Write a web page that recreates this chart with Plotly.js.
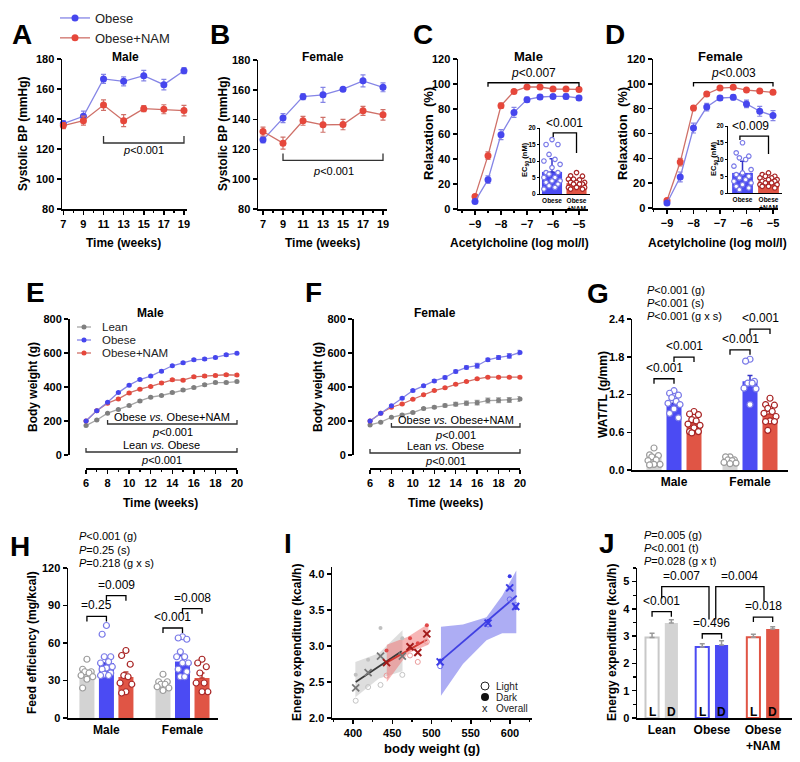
<!DOCTYPE html>
<html>
<head>
<meta charset="utf-8">
<script src="https://cdn.plot.ly/plotly-3.0.1.min.js"></script>
<style>
  html, body { margin: 0; padding: 0; background: #fff; }
  #plot { width: 800px; height: 762px; }
</style>
</head>
<body>
<div id="plot"></div>
<script>
// ---- data ----
// A, B: systolic BP
const bpWeeks = [7, 9, 11, 13, 15, 17, 19]
const bpMaleObese = [136.9, 141.8, 166.7, 165.1, 168.9, 162.9, 172.2]
const bpMaleObeseErr = [2, 3.5, 3, 3, 3.5, 3.5, 2]
const bpMaleNam = [135.6, 138.9, 149.3, 138.9, 146.9, 146.5, 145.6]
const bpMaleNamErr = [2, 3, 3.5, 4, 2, 3, 3.5]
const bpFemaleObese = [126.4, 141, 155.4, 156.6, 160.4, 166, 161.7]
const bpFemaleObeseErr = [2, 3, 2, 5, 1, 4, 3]
const bpFemaleNam = [132, 124.2, 139.2, 136.5, 136.7, 145.9, 143.2]
const bpFemaleNamErr = [3, 4, 3, 5, 3.5, 3, 3.5]

// C, D: relaxation to acetylcholine
const achDose = [-9, -8.5, -8, -7.5, -7, -6.5, -6, -5.5, -5]
const relMaleObese = [6.1, 23.5, 59.5, 77.3, 87.5, 89.6, 90.1, 90.1, 88.8]
const relMaleObeseErr = [1, 3, 4, 4, 2, 2, 1.5, 2, 2]
const relMaleNam = [10.1, 42.7, 82.7, 94.1, 97.6, 97.6, 96, 96, 95.7]
const relMaleNamErr = [1, 3, 2, 1, 1, 1, 1, 1, 1]
const relFemaleObese = [4, 25, 64.4, 81.3, 88.6, 89.1, 83.8, 77.9, 74.4]
const relFemaleObeseErr = [1, 4, 4, 3, 2, 2, 3, 4, 4]
const relFemaleNam = [6, 37, 80.5, 91.8, 96.6, 97.2, 95, 94.2, 93.2]
const relFemaleNamErr = [1, 3, 2, 1.5, 1, 1, 1, 1, 1]

// C, D insets: EC50
const ec50Labels = ['Obese', 'Obese<br>+NAM']
const ec50Male = [6.7, 3.3]
const ec50MaleErr = [4.0, 0.9]
const ec50MaleObesePts = [16.5, 15, 15, 12, 10.5, 10, 9, 8, 6.5, 6.5, 6, 5, 5, 4, 4, 3.5, 3, 2.5, 2, 1.5]
const ec50MaleNamPts = [6.5, 5.5, 5.4, 4.5, 4.3, 4.5, 3.5, 3.5, 3.5, 3, 3, 3, 2, 2, 2, 1.5, 1.5]
const ec50Female = [6.0, 3.5]
const ec50FemaleErr = [3.5, 0.7]
const ec50FemaleObesePts = [15, 12, 11, 10.5, 10, 8, 7, 6, 5.5, 5, 4.5, 4, 3.5, 3, 2.5, 2, 1.5, 1]
const ec50FemaleNamPts = [6, 5.5, 5, 5, 4.5, 4.5, 4, 4, 3.5, 3.5, 3, 3, 2.5, 2.5, 2, 2, 1.5]

// E, F: body weight
const groupNames = ['Lean', 'Obese', 'Obese+NAM']
const bwWeeks = [6, 7, 8, 9, 10, 11, 12, 13, 14, 15, 16, 17, 18, 19, 20]
const bwMaleLean = [173, 206, 246, 267, 291, 318, 340, 350, 367, 383, 397, 413, 426, 426, 432]
const bwMaleObese = [200, 261, 310, 367, 411, 444, 464, 493, 525, 542, 560, 564, 574, 589, 599]
const bwMaleNam = [200, 261, 305, 330, 365, 387, 403, 424, 442, 440, 460, 464, 468, 472, 470]
const bwMaleErr = [3, 3, 4, 4, 5, 5, 5, 6, 6, 6, 6, 7, 7, 7, 7]
const bwFemaleLean = [177, 193, 222, 236, 250, 273, 281, 291, 299, 305, 308, 320, 322, 324, 330]
const bwFemaleLeanErr = [3, 3, 4, 4, 5, 6, 7, 8, 10, 12, 13, 14, 14, 14, 14]
const bwFemaleObese = [200, 246, 289, 334, 379, 407, 436, 456, 491, 515, 525, 560, 574, 583, 603]
const bwFemaleObeseErr = [3, 4, 5, 5, 6, 6, 7, 8, 8, 9, 14, 9, 11, 13, 12]
const bwFemaleNam = [200, 246, 281, 300, 328, 354, 379, 395, 416, 432, 448, 458, 458, 458, 458]
const bwFemaleNamErr = [3, 3, 3, 4, 4, 4, 5, 5, 5, 5, 5, 5, 5, 5, 6]

// G: WAT/TL
const sexLabels = ['Male', 'Female']
const watLean = [0.2, 0.13]
const watLeanErr = [0.03, 0.02]
const watObese = [1.06, 1.41]
const watObeseErr = [0.05, 0.09]
const watNam = [0.75, 0.89]
const watNamErr = [0.04, 0.06]
const watMaleLeanPts = [0.35, 0.24, 0.23, 0.21, 0.16, 0.15, 0.09, 0.09, 0.08]
const watMaleObesePts = [1.26, 1.22, 1.19, 1.15, 1.09, 1.06, 1.04, 0.97, 0.9, 0.83]
const watMaleNamPts = [0.93, 0.89, 0.88, 0.8, 0.78, 0.73, 0.71, 0.67, 0.61, 0.61, 0.59]
const watFemaleLeanPts = [0.21, 0.21, 0.16, 0.16, 0.15, 0.12, 0.11, 0.1]
const watFemaleObesePts = [1.76, 1.73, 1.41, 1.38, 1.38, 1.3, 1.29, 1.04]
const watFemaleNamPts = [1.14, 1.04, 1.03, 0.98, 0.93, 0.9, 0.85, 0.78, 0.77, 0.77, 0.63]

// H: feed efficiency
const feLean = [36, 26]
const feLeanErr = [2, 1.5]
const feObese = [44, 45.3]
const feObeseErr = [4.5, 4.5]
const feNam = [32.8, 32]
const feNamErr = [4, 4]
const feMaleLeanPts = [47, 39, 37, 37, 36, 34, 33, 31, 24]
const feMaleObesePts = [74, 67, 49, 49, 45, 44, 41, 40, 39, 36, 35, 34, 34]
const feMaleNamPts = [54, 50, 43, 34, 33, 28, 27, 21, 20]
const feFemaleLeanPts = [35, 29, 29, 27, 27, 25, 24, 22]
const feFemaleObesePts = [65, 64, 63, 53, 49, 49, 44, 44, 39, 37, 33, 33]
const feFemaleNamPts = [47, 44, 41, 36, 28, 28, 21, 21]

// I: energy expenditure vs body weight
const phaseNames = ['Light', 'Dark', 'Overall']
const iLeanWeight = [403.4, 419.2, 435, 462.8]
const iLeanLight = [2.24, 2.43, 2.46, 2.6]
const iLeanDark = [2.6, 2.81, 3.25, 3.11]
const iLeanOverall = [2.42, 2.63, 2.86, 2.86]
const iNamWeight = [442.7, 472.6, 482.5, 494]
const iNamLight = [2.59, 2.87, 2.78, 3.06]
const iNamDark = [2.94, 3.11, 3.04, 3.29]
const iNamOverall = [2.77, 2.99, 2.91, 3.17]
const iObeseWeight = [511, 572, 599.6, 607.3]
const iObeseLight = [2.72, 3.3, 3.65, 3.57]
const iObeseDark = [2.8, 3.35, 3.97, 3.53]
const iObeseOverall = [2.78, 3.32, 3.81, 3.55]
const iLeanFitX = [403.4, 462]
const iLeanFitY = [2.5, 2.93]
const iNamFitX = [442.7, 494]
const iNamFitY = [2.77, 3.09]
const iObeseFitX = [509, 608.5]
const iObeseFitY = [2.77, 3.7]
const iLeanBandX = [403, 433, 463]
const iLeanBandHi = [2.78, 2.9, 3.22]
const iLeanBandLo = [2.29, 2.55, 2.65]
const iNamBandX = [443, 470, 496]
const iNamBandHi = [3.02, 3.13, 3.31]
const iNamBandLo = [2.5, 2.9, 3.02]
const iObeseBandX = [512, 540, 570, 590, 608]
const iObeseBandHi = [3.27, 3.3, 3.4, 3.7, 4.05]
const iObeseBandLo = [2.31, 2.75, 3.08, 3.18, 3.18]

// J: energy expenditure light / dark
const eeGroups = ['Lean', 'Obese', 'Obese<br>+NAM']
const eeLight = [2.95, 2.6, 2.96]
const eeLightErr = [0.16, 0.12, 0.11]
const eeDark = [3.48, 2.68, 3.26]
const eeDarkErr = [0.12, 0.15, 0.09]

// ---- layout helpers ----
const W = 800, H = 762
const FONT = 'Arial, "Liberation Sans", sans-serif'
const BLUE = { mark: '#4646ee', line: '#8585e6', bar: '#4b4bf3', pt: '#7a7ae8', err: '#3434c8' }
const RED = { mark: '#e6473b', line: '#cf7068', bar: '#e05545', pt: '#a82424', err: '#b83a30' }
const GRAY = { mark: '#7f7f7f', line: '#a6a6a6', bar: '#d3d3d3', pt: '#9c9c9c', err: '#a8a8a8' }

// pixel boxes of each plot area, and the axis ranges
const panels = {
  A: { xd: [62, 187], yd: [59, 209], xr: [6.87, 19.3], yr: [80, 180] },
  B: { xd: [258, 387], yd: [60, 209], xr: [6.5, 19.4], yr: [80, 180] },
  C: { xd: [458, 588], yd: [59, 209], xr: [-9.654, -4.654], yr: [0, 120] },
  Ci: { xd: [540, 590], yd: [128, 194], xr: [-0.49, 1.55], yr: [0, 20] },
  D: { xd: [653, 778], yd: [59, 208], xr: [-9.528, -4.811], yr: [0, 120] },
  Di: { xd: [728, 782], yd: [126, 193], xr: [-0.558, 1.519], yr: [0, 20] },
  E: { xd: [86, 237], yd: [319, 455], xr: [6, 20], yr: [0, 800] },
  F: { xd: [370, 520], yd: [319, 455], xr: [6, 20], yr: [0, 800] },
  G: { xd: [632, 788], yd: [319, 470], xr: [-1.1, 6.7], yr: [0, 2.4] },
  H: { xd: [68, 218], yd: [568, 718], xr: [-0.97, 6.72], yr: [0, 120] },
  I: { xd: [332, 532], yd: [567, 718], xr: [373.2, 628], yr: [2, 4.1] },
  J: { xd: [637, 792], yd: [568, 718], xr: [-0.78, 7.25], yr: [0, 5.5] }
}
const order = ['A', 'B', 'C', 'Ci', 'D', 'Di', 'E', 'F', 'G', 'H', 'I', 'J']
function axId(k) { const n = order.indexOf(k) + 1; return n === 1 ? '' : String(n) }
function dx(k, v) { const q = panels[k]; return (q.xd[0] + (v - q.xr[0]) / (q.xr[1] - q.xr[0]) * (q.xd[1] - q.xd[0])) / W }
function dy(k, v) { const q = panels[k]; return 1 - (q.yd[1] - (v - q.yr[0]) / (q.yr[1] - q.yr[0]) * (q.yd[1] - q.yd[0])) / H }

const tickFont = { family: FONT, size: 11, color: '#000', weight: 'bold' }
const baseAx = {
  showline: true, linecolor: '#000', linewidth: 1.5, mirror: false,
  ticks: 'outside', ticklen: 4, tickwidth: 1.5, tickcolor: '#000',
  showgrid: false, zeroline: false, fixedrange: true, tickfont: tickFont
}
const minorTicks = function (dt, t0) {
  return { ticks: 'outside', ticklen: 2.5, tickwidth: 1.2, tickcolor: '#000', dtick: dt, tick0: t0, showgrid: false }
}

const layout = {
  width: W, height: H, margin: { l: 0, r: 0, t: 0, b: 0 },
  paper_bgcolor: '#fff', plot_bgcolor: 'rgba(0,0,0,0)',
  font: { family: FONT, color: '#000' },
  showlegend: true, hovermode: false,
  legend: {
    x: 55 / W, y: 1 - 3 / H, xanchor: 'left', yanchor: 'top',
    bgcolor: 'rgba(0,0,0,0)', font: { family: FONT, size: 13, color: '#222' }
  },
  shapes: [], annotations: []
}
order.forEach(function (k) {
  const id = axId(k), q = panels[k]
  layout['xaxis' + id] = Object.assign({}, baseAx, { domain: [q.xd[0] / W, q.xd[1] / W], range: q.xr, anchor: 'y' + id })
  layout['yaxis' + id] = Object.assign({}, baseAx, { domain: [1 - q.yd[1] / H, 1 - q.yd[0] / H], range: q.yr, anchor: 'x' + id })
})
function setAx(name, props) { Object.assign(layout[name], props) }

// A, B
setAx('xaxis', { tick0: 7, dtick: 2, minor: minorTicks(1, 7) })
setAx('yaxis', { tick0: 80, dtick: 20 })
setAx('xaxis2', { tick0: 7, dtick: 2, minor: minorTicks(1, 7) })
setAx('yaxis2', { tick0: 80, dtick: 20 })
// C, D
setAx('xaxis3', { tick0: -9, dtick: 1, minor: minorTicks(0.5, -9) })
setAx('yaxis3', { tick0: 0, dtick: 20 })
setAx('xaxis5', { tick0: -9, dtick: 1, minor: minorTicks(0.5, -9) })
setAx('yaxis5', { tick0: 0, dtick: 20 })
// insets
const insetX = { tickmode: 'array', tickvals: [0, 1], ticktext: ec50Labels, ticks: '', linewidth: 1, tickfont: { family: FONT, size: 6.5, color: '#000', weight: 'bold' } }
const insetY = { tick0: 0, dtick: 5, ticklen: 2, tickwidth: 1, linewidth: 1, tickfont: { family: FONT, size: 6.5, color: '#000', weight: 'bold' } }
setAx('xaxis4', insetX); setAx('yaxis4', insetY)
setAx('xaxis6', insetX); setAx('yaxis6', insetY)
// E, F (Prism-style offset axes)
setAx('xaxis7', { tick0: 6, dtick: 2, minor: minorTicks(1, 6), anchor: 'free', position: 1 - 468 / H })
setAx('yaxis7', { tick0: 0, dtick: 200, anchor: 'free', position: 68 / W })
setAx('xaxis8', { tick0: 6, dtick: 2, minor: minorTicks(1, 6), anchor: 'free', position: 1 - 468 / H })
setAx('yaxis8', { tick0: 0, dtick: 200, anchor: 'free', position: 352 / W })
// G, H
const catFont = { family: FONT, size: 12, color: '#000', weight: 'bold' }
setAx('xaxis9', { tickmode: 'array', tickvals: [1, 4.8], ticktext: sexLabels, ticks: '', tickfont: catFont })
setAx('yaxis9', { tick0: 0, dtick: 0.6, tickformat: '.1f' })
setAx('xaxis10', { tickmode: 'array', tickvals: [1, 4.9], ticktext: sexLabels, ticks: '', tickfont: catFont })
setAx('yaxis10', { tick0: 0, dtick: 30 })
// I
setAx('xaxis11', { tick0: 400, dtick: 50, minor: minorTicks(25, 400) })
setAx('yaxis11', { tick0: 2, dtick: 0.5, tickformat: '.1f' })
// J
setAx('xaxis12', { tickmode: 'array', tickvals: [0.5, 3.1, 5.75], ticktext: eeGroups, ticks: '', tickfont: catFont })
setAx('yaxis12', { tick0: 0, dtick: 1, minor: minorTicks(0.5, 0) })

// ---- traces ----
const traces = []
function refs(k) { const id = axId(k); return { xaxis: 'x' + id, yaxis: 'y' + id } }

function series(k, x, y, err, col, name, size, legendOn) {
  traces.push(Object.assign({
    type: 'scatter', mode: 'lines+markers', x: x, y: y, name: name,
    showlegend: !!legendOn, cliponaxis: false,
    line: { color: col.line, width: 1.3 },
    marker: { color: col.mark, size: size },
    error_y: { type: 'data', array: err, visible: true, color: col.line, thickness: 1.2, width: 2.5 }
  }, refs(k)))
}
series('A', bpWeeks, bpMaleObese, bpMaleObeseErr, BLUE, 'Obese', 7, true)
series('A', bpWeeks, bpMaleNam, bpMaleNamErr, RED, 'Obese+NAM', 7, true)
series('B', bpWeeks, bpFemaleObese, bpFemaleObeseErr, BLUE, 'Obese', 7)
series('B', bpWeeks, bpFemaleNam, bpFemaleNamErr, RED, 'Obese+NAM', 7)
series('C', achDose, relMaleNam, relMaleNamErr, RED, 'Obese+NAM', 7)
series('C', achDose, relMaleObese, relMaleObeseErr, BLUE, 'Obese', 7)
series('D', achDose, relFemaleNam, relFemaleNamErr, RED, 'Obese+NAM', 7)
series('D', achDose, relFemaleObese, relFemaleObeseErr, BLUE, 'Obese', 7)
series('E', bwWeeks, bwMaleLean, bwMaleErr, GRAY, groupNames[0], 5)
series('E', bwWeeks, bwMaleNam, bwMaleErr, RED, groupNames[2], 5)
series('E', bwWeeks, bwMaleObese, bwMaleErr, BLUE, groupNames[1], 5)
series('F', bwWeeks, bwFemaleLean, bwFemaleLeanErr, GRAY, groupNames[0], 5)
series('F', bwWeeks, bwFemaleNam, bwFemaleNamErr, RED, groupNames[2], 5)
series('F', bwWeeks, bwFemaleObese, bwFemaleObeseErr, BLUE, groupNames[1], 5)

function bars(k, x, y, err, col, width) {
  traces.push(Object.assign({
    type: 'bar', x: x, y: y, width: width, showlegend: false,
    marker: { color: col.bar, line: { width: 0 } },
    error_y: { type: 'data', symmetric: false, array: err, arrayminus: err.map(function () { return 0 }), color: col.err, thickness: 1.5, width: 2.5 }
  }, refs(k)))
}
const jit = [0, -0.22, 0.22, -0.11, 0.11, -0.3, 0.3]
function dots(k, center, vals, col, spread, size) {
  traces.push(Object.assign({
    type: 'scatter', mode: 'markers', showlegend: false, cliponaxis: false,
    x: vals.map(function (v, i) { return center + jit[i % jit.length] * spread }), y: vals,
    marker: { symbol: 'circle', size: size, color: '#fff', line: { color: col.pt, width: 1.2 } }
  }, refs(k)))
}

// insets
bars('Ci', [0], [ec50Male[0]], [ec50MaleErr[0]], BLUE, 0.82)
bars('Ci', [1], [ec50Male[1]], [ec50MaleErr[1]], RED, 0.82)
dots('Ci', 0, ec50MaleObesePts, BLUE, 1.1, 4.5)
dots('Ci', 1, ec50MaleNamPts, RED, 1.1, 4.5)
bars('Di', [0], [ec50Female[0]], [ec50FemaleErr[0]], BLUE, 0.8)
bars('Di', [1], [ec50Female[1]], [ec50FemaleErr[1]], RED, 0.8)
dots('Di', 0, ec50FemaleObesePts, BLUE, 1.1, 4.5)
dots('Di', 1, ec50FemaleNamPts, RED, 1.1, 4.5)

// G
bars('G', [0, 3.8], watLean, watLeanErr, GRAY, 0.75)
bars('G', [1, 4.8], watObese, watObeseErr, BLUE, 0.75)
bars('G', [2, 5.8], watNam, watNamErr, RED, 0.75)
dots('G', 0, watMaleLeanPts, GRAY, 1, 6)
dots('G', 1, watMaleObesePts, BLUE, 1, 6)
dots('G', 2, watMaleNamPts, RED, 1, 6)
dots('G', 3.8, watFemaleLeanPts, GRAY, 1, 6)
dots('G', 4.8, watFemaleObesePts, BLUE, 1, 6)
dots('G', 5.8, watFemaleNamPts, RED, 1, 6)

// H
bars('H', [0, 3.9], feLean, feLeanErr, GRAY, 0.77)
bars('H', [1, 4.9], feObese, feObeseErr, BLUE, 0.77)
bars('H', [2, 5.9], feNam, feNamErr, RED, 0.77)
dots('H', 0, feMaleLeanPts, GRAY, 1, 6)
dots('H', 1, feMaleObesePts, BLUE, 1, 6)
dots('H', 2, feMaleNamPts, RED, 1, 6)
dots('H', 3.9, feFemaleLeanPts, GRAY, 1, 6)
dots('H', 4.9, feFemaleObesePts, BLUE, 1, 6)
dots('H', 5.9, feFemaleNamPts, RED, 1, 6)

// I
function band(bx, hi, lo, fill) {
  traces.push(Object.assign({
    type: 'scatter', mode: 'lines', fill: 'toself', fillcolor: fill, line: { width: 0 }, showlegend: false,
    x: bx.concat(bx.slice().reverse()), y: hi.concat(lo.slice().reverse())
  }, refs('I')))
}
band(iLeanBandX, iLeanBandHi, iLeanBandLo, 'rgba(190,190,190,0.5)')
band(iNamBandX, iNamBandHi, iNamBandLo, 'rgba(240,110,110,0.5)')
band(iObeseBandX, iObeseBandHi, iObeseBandLo, 'rgba(105,105,235,0.55)')
function fit(x, y, color) {
  traces.push(Object.assign({ type: 'scatter', mode: 'lines', x: x, y: y, line: { color: color, width: 1.8 }, showlegend: false }, refs('I')))
}
fit(iLeanFitX, iLeanFitY, '#3a3a3a')
fit(iNamFitX, iNamFitY, '#d23a32')
fit(iObeseFitX, iObeseFitY, '#4040e2')
function pts(x, y, marker) {
  traces.push(Object.assign({ type: 'scatter', mode: 'markers', x: x, y: y, marker: marker, showlegend: false, cliponaxis: false }, refs('I')))
}
function openMk(symbol, size, color, width) { return { symbol: symbol, size: size, color: color, line: { color: color, width: width } } }
pts(iLeanWeight, iLeanLight, openMk('circle-open', 5, '#c4c4c4', 1))
pts(iLeanWeight, iLeanDark, { symbol: 'circle', size: 4, color: '#c0c0c0' })
pts(iLeanWeight, iLeanOverall, openMk('x-thin-open', 7, '#777777', 1.8))
pts(iNamWeight, iNamLight, openMk('circle-open', 5, '#eb9c9c', 1))
pts(iNamWeight, iNamDark, { symbol: 'circle', size: 4, color: '#e04848' })
pts(iNamWeight, iNamOverall, openMk('x-thin-open', 7, '#a21a1a', 2))
pts(iObeseWeight, iObeseLight, openMk('circle-open', 5, '#6b6bef', 1))
pts(iObeseWeight, iObeseDark, { symbol: 'circle', size: 4, color: '#3a3ae8' })
pts(iObeseWeight, iObeseOverall, openMk('x-thin-open', 7, '#3c3ce6', 2))

// J
const eeLightPos = [0, 2.6, 5.25]
const eeDarkPos = [1, 3.6, 6.25]
const eeCols = [GRAY, BLUE, RED]
traces.push(Object.assign({
  type: 'bar', x: eeLightPos, y: eeLight, width: 0.68, showlegend: false,
  marker: { color: '#fff', line: { width: 2, color: eeCols.map(function (c) { return c.bar === '#d3d3d3' ? '#c8c8c8' : c.bar }) } },
  error_y: { type: 'data', symmetric: false, array: eeLightErr, arrayminus: [0, 0, 0], color: '#999', thickness: 1.5, width: 2.5 }
}, refs('J')))
traces.push(Object.assign({
  type: 'bar', x: eeDarkPos, y: eeDark, width: 0.68, showlegend: false,
  marker: { color: eeCols.map(function (c) { return c.bar }), line: { width: 0 } },
  error_y: { type: 'data', symmetric: false, array: eeDarkErr, arrayminus: [0, 0, 0], color: '#999', thickness: 1.5, width: 2.5 }
}, refs('J')))

// ---- annotations / brackets ----
function noteP(px, py, text, o) {
  layout.annotations.push(Object.assign({
    xref: 'paper', yref: 'paper', x: px / W, y: 1 - py / H, text: text, showarrow: false,
    font: { family: FONT, size: 11, color: '#000' }, xanchor: 'center', yanchor: 'middle'
  }, o || {}))
}
function noteD(k, xv, yv, text, o) {
  layout.annotations.push(Object.assign({
    xref: 'paper', yref: 'paper', x: dx(k, xv), y: dy(k, yv), text: text, showarrow: false,
    font: { family: FONT, size: 11, color: '#000' }, xanchor: 'center', yanchor: 'bottom'
  }, o || {}))
}
function bracket(k, x0, x1, y, d0, d1, color) {
  const X0 = dx(k, x0), X1 = dx(k, x1), Y = dy(k, y)
  layout.shapes.push({
    type: 'path', xref: 'paper', yref: 'paper',
    path: 'M' + X0 + ',' + (Y - d0 / H) + ' L' + X0 + ',' + Y + ' L' + X1 + ',' + Y + ' L' + X1 + ',' + (Y - d1 / H),
    line: { color: color || '#000', width: 1.3 }
  })
}
const bold = function (s) { return { family: FONT, size: s, color: '#000', weight: 'bold' } }
const letter = { font: bold(28) }

// letters
noteP(22, 35, 'A', letter); noteP(220, 35, 'B', letter); noteP(423, 35, 'C', letter); noteP(615, 35, 'D', letter)
noteP(35, 292, 'E', letter); noteP(313, 292, 'F', letter); noteP(598, 293, 'G', letter)
noteP(20, 546, 'H', letter); noteP(288, 543, 'I', letter); noteP(607, 543, 'J', letter)

// panel titles
noteP(125, 57, 'Male', { font: bold(12) }); noteP(323, 57, 'Female', { font: bold(12) })
noteP(528, 57, 'Male', { font: bold(13) }); noteP(720, 57, 'Female', { font: bold(13) })
noteP(150, 313, 'Male', { font: bold(12) }); noteP(435, 313, 'Female', { font: bold(12) })

// axis titles
const yt = function (s) { return { font: bold(s), textangle: -90 } }
noteP(23, 134, 'Systolic BP (mmHg)', yt(12)); noteP(223, 134, 'Systolic BP (mmHg)', yt(12))
noteP(428, 134, 'Relaxation  (%)', yt(13)); noteP(622, 134, 'Relaxation  (%)', yt(13))
noteP(525, 160, 'EC<sub>50</sub> (nM)', yt(7.5)); noteP(714, 159, 'EC<sub>50</sub> (nM)', yt(7.5))
noteP(33, 387, 'Body weight (g)', yt(12)); noteP(318, 387, 'Body weight (g)', yt(12))
noteP(603, 395, 'WAT/TL (g/mm)', yt(12))
noteP(32, 643, 'Feed efficiency (mg/kcal)', yt(12))
noteP(297, 643, 'Energy expenditure (kcal/h)', yt(12)); noteP(612, 643, 'Energy expenditure (kcal/h)', yt(12))
noteP(123, 243, 'Time (weeks)', { font: bold(12) }); noteP(322, 243, 'Time (weeks)', { font: bold(12) })
noteP(519, 243, 'Acetylcholine (log mol/l)', { font: bold(12) }); noteP(717, 243, 'Acetylcholine (log mol/l)', { font: bold(12) })
noteP(160, 503, 'Time (weeks)', { font: bold(12) }); noteP(445, 503, 'Time (weeks)', { font: bold(12) })
noteP(432, 748, 'body weight (g)', { font: bold(13) })

// A, B brackets
bracket('A', 11, 19, 124, -7, -7, '#333'); noteD('A', 15, 119, '<i>p</i>&lt;0.001', { yanchor: 'middle' })
bracket('B', 9, 19, 112.6, -7, -7, '#333'); noteD('B', 14, 105.5, '<i>p</i>&lt;0.001', { yanchor: 'middle' })
// C, D brackets
const f12 = { family: FONT, size: 12, color: '#000' }
bracket('C', -8.5, -5, 101, 4, 4); noteD('C', -6.75, 101.5, '<i>p</i>&lt;0.007', { font: f12 })
bracket('D', -8, -5, 101, 4, 4); noteD('D', -6.5, 101.5, '<i>p</i>&lt;0.003', { font: f12 })
bracket('Ci', 0.05, 1.0, 18.5, 4, 20); noteD('Ci', 0.52, 18.8, '&lt;0.001', { font: f12 })
bracket('Di', -0.1, 1.0, 17.0, 4, 18); noteD('Di', 0.3, 17.3, '&lt;0.009', { font: f12 })
// E, F brackets
function efBrackets(k, yTop, yBot) {
  const q = panels[k]
  const v = function (py) { return q.yr[0] + (q.yd[1] - py) / (q.yd[1] - q.yd[0]) * (q.yr[1] - q.yr[0]) }
  bracket(k, 8, 20, v(yTop), -4, -4, '#333')
  noteD(k, 14, v(yTop + 1), 'Obese <i>vs.</i> Obese+NAM')
  noteD(k, 14, v(yTop + 8), '<i>p</i>&lt;0.001', { yanchor: 'middle' })
  bracket(k, 6, 20, v(yBot), -4, -4, '#333')
  noteD(k, 13, v(yBot + 1), 'Lean <i>vs.</i> Obese')
  noteD(k, 13, v(yBot + 8), '<i>p</i>&lt;0.001', { yanchor: 'middle' })
}
efBrackets('E', 424, 452)
efBrackets('F', 427, 453)

// G stats
const statFont = { family: FONT, size: 11, color: '#000' }
noteP(645, 290, '<i>P</i>&lt;0.001 (g)', { xanchor: 'left', font: statFont })
noteP(645, 303, '<i>P</i>&lt;0.001 (s)', { xanchor: 'left', font: statFont })
noteP(645, 316, '<i>P</i>&lt;0.001 (g x s)', { xanchor: 'left', font: statFont })
bracket('G', 0, 1, 1.45, 5, 5); noteD('G', 0.5, 1.48, '&lt;0.001', { font: f12 })
bracket('G', 1, 2, 1.795, 5, 5); noteD('G', 1.5, 1.825, '&lt;0.001', { font: f12 })
bracket('G', 3.8, 4.8, 1.91, 5, 5); noteD('G', 4.3, 1.94, '&lt;0.001', { font: f12 })
bracket('G', 4.8, 5.8, 2.24, 5, 5); noteD('G', 5.3, 2.27, '&lt;0.001', { font: f12 })

// H stats
noteP(77, 536, '<i>P</i>&lt;0.001 (g)', { xanchor: 'left', font: statFont })
noteP(77, 550, '<i>P</i>=0.25 (s)', { xanchor: 'left', font: statFont })
noteP(77, 563, '<i>P</i>=0.218 (g x s)', { xanchor: 'left', font: statFont })
bracket('H', 0, 1, 81.3, 5, 5); noteD('H', 0.5, 83, '=0.25', { font: f12 })
bracket('H', 1, 2, 97.9, 5, 5); noteD('H', 1.5, 99.6, '=0.009', { font: f12 })
bracket('H', 3.9, 4.9, 72, 5, 5); noteD('H', 4.4, 73.7, '&lt;0.001', { font: f12 })
bracket('H', 4.9, 5.9, 87.5, 5, 5); noteD('H', 5.4, 89.2, '=0.008', { font: f12 })

// J stats
noteP(642, 535, '<i>P</i>=0.005 (g)', { xanchor: 'left', font: statFont })
noteP(642, 548, '<i>P</i>&lt;0.001 (t)', { xanchor: 'left', font: statFont })
noteP(642, 561, '<i>P</i>=0.028 (g x t)', { xanchor: 'left', font: statFont })
bracket('J', 0, 1, 3.9, 5, 5); noteD('J', 0.5, 3.96, '&lt;0.001', { font: f12 })
bracket('J', 2.6, 3.6, 3.09, 5, 5); noteD('J', 3.1, 3.15, '=0.496', { font: f12 })
bracket('J', 5.25, 6.25, 3.7, 5, 5); noteD('J', 5.75, 3.76, '=0.018', { font: f12 })
bracket('J', 0.5, 2.95, 4.82, 12, 33); noteD('J', 1.55, 4.88, '=0.007', { font: f12 })
bracket('J', 3.3, 5.8, 4.82, 33, 15); noteD('J', 4.55, 4.88, '=0.004', { font: f12 })
eeLightPos.forEach(function (x) { noteD('J', x, 0.22, 'L', { yanchor: 'middle', font: bold(12) }) })
eeDarkPos.forEach(function (x) { noteD('J', x, 0.22, 'D', { yanchor: 'middle', font: bold(12) }) })

// E legend (compact, drawn by hand)
const eCols = [GRAY, BLUE, RED]
groupNames.forEach(function (name, i) {
  const py = 327 + 13 * i
  layout.shapes.push({ type: 'line', xref: 'paper', yref: 'paper', x0: 77 / W, x1: 91 / W, y0: 1 - py / H, y1: 1 - py / H, line: { color: eCols[i].line, width: 1.3 } })
  layout.shapes.push({ type: 'circle', xref: 'paper', yref: 'paper', x0: 81.5 / W, x1: 86.5 / W, y0: 1 - (py + 2.5) / H, y1: 1 - (py - 2.5) / H, fillcolor: eCols[i].mark, line: { width: 0 } })
  noteP(100, py, name, { xanchor: 'left', font: { family: FONT, size: 11.5, color: '#222' } })
})

// I legend (compact, drawn by hand)
layout.shapes.push({ type: 'circle', xref: 'paper', yref: 'paper', x0: 481 / W, x1: 489 / W, y0: 1 - 690 / H, y1: 1 - 682 / H, line: { color: '#222', width: 1 } })
layout.shapes.push({ type: 'circle', xref: 'paper', yref: 'paper', x0: 481 / W, x1: 489 / W, y0: 1 - 701 / H, y1: 1 - 693 / H, fillcolor: '#111', line: { width: 0 } })
noteP(485, 708, 'x', { font: { family: FONT, size: 11, color: '#222' } })
phaseNames.forEach(function (name, i) {
  noteP(494, 686 + 11 * i, name, { xanchor: 'left', font: { family: FONT, size: 10, color: '#222' } })
})

Plotly.newPlot('plot', traces, layout, { staticPlot: true, displayModeBar: false })
</script>
</body>
</html>
